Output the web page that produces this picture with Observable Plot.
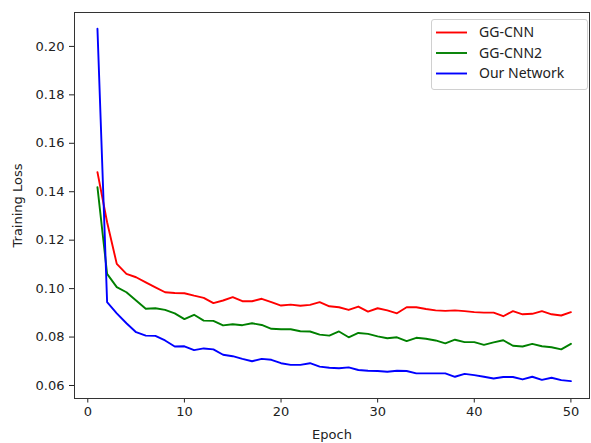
<!DOCTYPE html>
<html>
<head>
<meta charset="utf-8">
<script src="https://cdn.jsdelivr.net/npm/d3@7"></script>
<script src="https://cdn.jsdelivr.net/npm/@observablehq/plot@0.6"></script>
<style>
  html, body { margin: 0; padding: 0; background: #fff; }
  #chart svg { display: block; }
</style>
</head>
<body>
<div id="chart"></div>
<script>
const epochs = d3.range(1, 51);
const seriesNames = ["GG-CNN", "GG-CNN2", "Our Network"];
const seriesColors = ["#ff0000", "#008000", "#0000ff"];
const ggcnn = [0.1481, 0.1274, 0.1102, 0.1061, 0.1047, 0.1026, 0.1005, 0.0985, 0.0982, 0.0981,
  0.0971, 0.0962, 0.0940, 0.0951, 0.0965, 0.0948, 0.0948, 0.0958, 0.0944, 0.0930,
  0.0934, 0.0929, 0.0933, 0.0944, 0.0927, 0.0923, 0.0912, 0.0926, 0.0905, 0.0919,
  0.0910, 0.0898, 0.0923, 0.0923, 0.0916, 0.0910, 0.0908, 0.0910, 0.0907, 0.0903,
  0.0901, 0.0901, 0.0886, 0.0907, 0.0894, 0.0896, 0.0907, 0.0894, 0.0889, 0.0903];
const ggcnn2 = [0.1419, 0.1061, 0.1006, 0.0985, 0.0951, 0.0917, 0.0919, 0.0912, 0.0898, 0.0874,
  0.0892, 0.0868, 0.0867, 0.0848, 0.0853, 0.0849, 0.0857, 0.0850, 0.0834, 0.0832,
  0.0832, 0.0824, 0.0823, 0.0810, 0.0806, 0.0823, 0.0799, 0.0817, 0.0813, 0.0803,
  0.0795, 0.0799, 0.0783, 0.0797, 0.0793, 0.0786, 0.0774, 0.0789, 0.0779, 0.0779,
  0.0768, 0.0778, 0.0787, 0.0764, 0.0761, 0.0772, 0.0762, 0.0758, 0.0749, 0.0772];
const ourNetwork = [0.2073, 0.0944, 0.0898, 0.0857, 0.0820, 0.0806, 0.0805, 0.0786, 0.0761, 0.0762,
  0.0746, 0.0753, 0.0749, 0.0727, 0.0721, 0.0710, 0.0700, 0.0710, 0.0706, 0.0692,
  0.0685, 0.0685, 0.0692, 0.0678, 0.0673, 0.0671, 0.0675, 0.0664, 0.0661, 0.0660,
  0.0657, 0.0661, 0.0660, 0.0650, 0.0650, 0.0650, 0.0650, 0.0636, 0.0648, 0.0643,
  0.0636, 0.0629, 0.0635, 0.0635, 0.0625, 0.0636, 0.0623, 0.0632, 0.0622, 0.0618];
const xTicks = [0, 10, 20, 30, 40, 50];
const yTicks = [0.06, 0.08, 0.10, 0.12, 0.14, 0.16, 0.18, 0.20];

const allSeries = [ggcnn, ggcnn2, ourNetwork];
const data = [];
allSeries.forEach((vals, i) => {
  vals.forEach((v, j) => data.push({epoch: epochs[j], loss: v, series: seriesNames[i]}));
});

const W = 591, H = 443;
const chart = Plot.plot({
  width: W, height: H,
  marginLeft: 74, marginRight: 2, marginTop: 12, marginBottom: 45,
  style: {fontFamily: "DejaVu Sans", fontSize: "13px", color: "#222", background: "#fff"},
  x: {domain: [-1.375, 51.925]},
  y: {domain: [0.05463, 0.2140]},
  color: {domain: seriesNames, range: seriesColors},
  marks: [
    Plot.axisX({ticks: xTicks, tickFormat: d => String(d), tickSize: 4.5, tickPadding: 4,
      label: "Epoch", labelAnchor: "center", labelArrow: "none", labelOffset: 40}),
    Plot.axisY({ticks: yTicks, tickFormat: d => d.toFixed(2), tickSize: 5, tickPadding: 5,
      label: "Training Loss", labelAnchor: "center", labelArrow: "none", labelOffset: 62}),
    Plot.line(data, {x: "epoch", y: "loss", stroke: "series", z: "series", strokeWidth: 1.9}),
    Plot.frame({stroke: "#333", strokeWidth: 1})
  ]
});

// legend (matplotlib-style, upper right)
const svg = d3.select(chart);
const lg = svg.append("g").attr("font-family", "'Noto Sans', sans-serif").attr("font-size", 14)
  .attr("text-anchor", "start");
lg.append("rect").attr("x", 431.5).attr("y", 19.5).attr("width", 156).attr("height", 70)
  .attr("rx", 2.5).attr("fill", "#fff").attr("fill-opacity", 0.8).attr("stroke", "#d0d0d0");
seriesNames.forEach((name, i) => {
  const yy = 32.5 + i * 20.5;
  lg.append("line").attr("x1", 436).attr("x2", 467).attr("y1", yy).attr("y2", yy)
    .attr("stroke", seriesColors[i]).attr("stroke-width", 1.9);
  lg.append("text").attr("x", 479).attr("y", yy).attr("dy", "0.35em")
    .attr("text-anchor", "start").attr("fill", "#222").text(name);
});

document.getElementById("chart").appendChild(chart);
</script>
</body>
</html>
